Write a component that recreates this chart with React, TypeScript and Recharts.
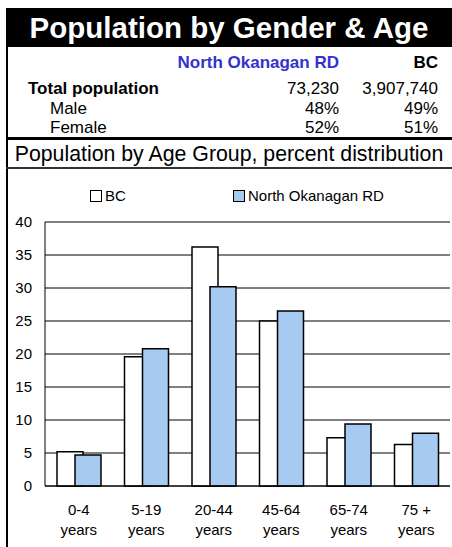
import { BarChart, Bar, XAxis, YAxis, CartesianGrid, Legend } from "recharts"

const ageGroups = ["0-4 years", "5-19 years", "20-44 years", "45-64 years", "65-74 years", "75 + years"]
const bcValues = [5.2, 19.6, 36.2, 25.0, 7.3, 6.3]
const northOkanaganValues = [4.7, 20.8, 30.2, 26.5, 9.4, 8.0]
const yTicks = [0, 5, 10, 15, 20, 25, 30, 35, 40]

const regionName = "North Okanagan RD"
const provinceName = "BC"
const totalRow = ["Total population", "73,230", "3,907,740"]
const maleRow = ["Male", "48%", "49%"]
const femaleRow = ["Female", "52%", "51%"]

const FONT = "'Liberation Sans', Arial, sans-serif"
const BLUE = "#a6caf0"

const data = ageGroups.map((name, i) => ({
  name,
  bc: bcValues[i],
  north: northOkanaganValues[i],
}))

function AgeTick({ x, y, payload }: any) {
  const label: string = payload.value
  const cut = label.lastIndexOf(" ")
  return (
    <g transform={`translate(${x},${y})`}>
      <text textAnchor="middle" fontSize={15} fill="#000" fontFamily={FONT}>
        <tspan x={0} y={21}>{label.slice(0, cut)}</tspan>
        <tspan x={0} y={41}>{label.slice(cut + 1)}</tspan>
      </text>
    </g>
  )
}

function LegendBox() {
  const square = (fill: string) => (
    <span
      style={{
        display: "inline-block",
        width: 10,
        height: 10,
        border: "1.5px solid #000",
        background: fill,
        marginRight: 3,
      }}
    />
  )
  return (
    <div style={{ position: "relative", height: 20, fontFamily: FONT, fontSize: 15 }}>
      <div style={{ position: "absolute", left: 90, top: 0, display: "flex", alignItems: "center" }}>
        {square("#fff")}
        BC
      </div>
      <div style={{ position: "absolute", left: 233, top: 0, display: "flex", alignItems: "center" }}>
        {square(BLUE)}
        {regionName}
      </div>
    </div>
  )
}

function Row({ cells, top, bold, indent }: { cells: string[]; top: number; bold?: boolean; indent?: boolean }) {
  return (
    <>
      <div style={{ position: "absolute", left: indent ? 50 : 28, top, fontWeight: bold ? "bold" : "normal" }}>
        {cells[0]}
      </div>
      <div style={{ position: "absolute", right: 452 - 339, top }}>{cells[1]}</div>
      <div style={{ position: "absolute", right: 452 - 438, top }}>{cells[2]}</div>
    </>
  )
}

export default function App() {
  return (
    <div
      style={{
        position: "absolute",
        left: 0,
        top: 0,
        width: 452,
        height: 547,
        background: "#fff",
        fontFamily: FONT,
        fontSize: 17,
        color: "#000",
        overflow: "hidden",
      }}
    >
      {/* frame left edge */}
      <div style={{ position: "absolute", left: 6, top: 8, width: 2, height: 539, background: "#000" }} />

      {/* title bar */}
      <div
        style={{
          position: "absolute",
          left: 6,
          top: 8,
          width: 446,
          height: 39,
          background: "#000",
          color: "#fff",
          fontWeight: "bold",
          fontSize: 29.5,
          lineHeight: "39px",
          textAlign: "center",
        }}
      >
        Population by Gender &amp; Age
      </div>

      {/* summary table */}
      <div style={{ position: "absolute", right: 452 - 339, top: 53, fontWeight: "bold", color: "#3333cc" }}>
        {regionName}
      </div>
      <div style={{ position: "absolute", right: 452 - 438, top: 53, fontWeight: "bold" }}>{provinceName}</div>
      <Row cells={totalRow} top={79} bold />
      <Row cells={maleRow} top={99} indent />
      <Row cells={femaleRow} top={118} indent />

      <div style={{ position: "absolute", left: 6, top: 137, width: 446, height: 2.5, background: "#000" }} />

      <div style={{ position: "absolute", left: 6, top: 142, width: 446, textAlign: "center", fontSize: 21.3 }}>
        Population by Age Group, percent distribution
      </div>

      <div style={{ position: "absolute", left: 6, top: 167, width: 446, height: 1.5, background: "#333" }} />

      {/* chart */}
      <div style={{ position: "absolute", left: 0, top: 168 }}>
        <BarChart
          width={452}
          height={379}
          data={data}
          margin={{ top: 34, right: 2, bottom: 0, left: 0 }}
          barSize={26}
          barGap={-8}
        >
          <CartesianGrid vertical={false} stroke="#000" strokeWidth={1} />
          <XAxis
            dataKey="name"
            height={61}
            stroke="#000"
            tickLine={false}
            tick={<AgeTick />}
            interval={0}
          />
          <YAxis
            width={45}
            domain={[0, 40]}
            ticks={yTicks}
            stroke="#000"
            tickLine={false}
            tickSize={0}
            tickMargin={13}
            tick={{ fontSize: 15, fill: "#000", fontFamily: FONT }}
          />
          <Legend
            verticalAlign="top"
            content={<LegendBox />}
            wrapperStyle={{ top: 19, left: 0, width: 452 }}
          />
          <Bar dataKey="bc" name="BC" fill="#fff" stroke="#000" strokeWidth={1.5} isAnimationActive={false} />
          <Bar
            dataKey="north"
            name={regionName}
            fill={BLUE}
            stroke="#000"
            strokeWidth={1.5}
            isAnimationActive={false}
          />
        </BarChart>
      </div>
    </div>
  )
}
